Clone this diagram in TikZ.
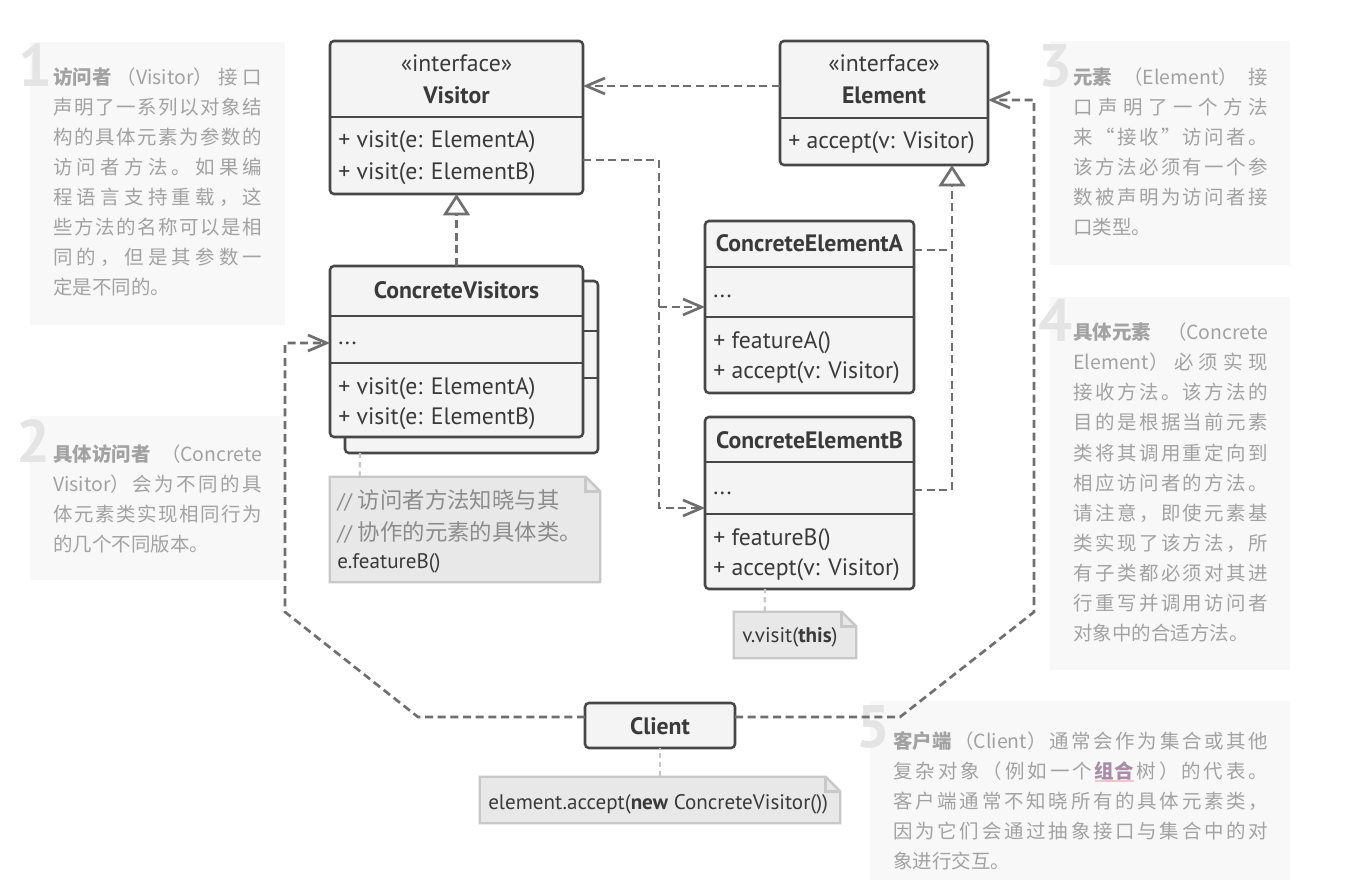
\documentclass[tikz,border=0pt]{standalone}
\usepackage{fontspec}
\setmainfont{PT Sans}
\newfontfamily\cjk{Noto Sans CJK SC}
\usetikzlibrary{arrows.meta,calc}
\definecolor{boxline}{HTML}{474747}
\definecolor{boxfill}{HTML}{F4F4F4}
\definecolor{txt}{HTML}{3A3A3A}
\definecolor{conn}{HTML}{6F6F6F}
\definecolor{notefill}{HTML}{E8E8E8}
\definecolor{noteline}{HTML}{C8C8C8}
\definecolor{cmt}{HTML}{8C8C8C}
\definecolor{panel}{HTML}{F8F8F8}
\definecolor{numc}{HTML}{E4E4E4}
\definecolor{anntxt}{HTML}{A2A2A2}
\definecolor{linkc}{HTML}{A88CA8}
\definecolor{ulc}{HTML}{F2C6C6}
\makeatletter
\newlength\jw
\newcommand\jl[1]{\hbox to \jw{\@tfor\@c:=#1\do{\@c\hfil}\unskip}}
\makeatother
\newcommand\lnk[1]{\setbox0\hbox{\bfseries #1}\rlap{\color{ulc}\rule[-3pt]{\wd0}{1.2pt}}{\color{linkc}\box0}}
\newcommand\rectnode[6]{\node[#6, minimum width={(#4-#2)*0.75pt}, minimum height={(#5-#3)*0.75pt}] (#1) at ({(#2+#4)/2},{(#3+#5)/2}) {};}
\newcommand\annot[4]{\foreach \t [count=\i] in {#4}{\node[ann] (#1-\i) at (#2,{#3+(\i-1)*30}) {\t};}}
\tikzset{
  cls/.style={draw=boxline, fill=boxfill, line width=1.9pt, rounded corners=3pt, inner sep=0pt, outer sep=0pt},
  sep/.style={draw=boxline, line width=1.9pt},
  ctext/.style={text=txt, font=\fontsize{17.8}{21}\selectfont, inner sep=0pt, anchor=base west},
  chead/.style={text=txt, font=\fontsize{17.8}{21}\selectfont\bfseries, inner sep=0pt, anchor=base},
  cster/.style={text=txt, font=\fontsize{17.8}{21}\selectfont, inner sep=0pt, anchor=base},
  dep/.style={draw=conn, line width=2pt, dash pattern=on 6pt off 3.5pt},
  barb/.style={-{Straight Barb[length=14pt,width=12pt,line width=2pt]}},
  real/.style={-{Triangle[length=16pt,width=20pt,fill=white,line width=2pt]}},
  notebox/.style={draw=noteline, fill=notefill, line width=1.8pt},
  noteconn/.style={draw=noteline, line width=1.8pt, dash pattern=on 4pt off 3pt},
  ntext/.style={text=txt, font=\fontsize{15.8}{19}\selectfont, anchor=base west, inner sep=0pt},
  num/.style={text=numc, font=\fontsize{45}{45}\selectfont\bfseries, anchor=base west, inner sep=0pt},
  ann/.style={text=anntxt, font=\cjk\fontsize{14.6}{22}\selectfont, anchor=base west, inner sep=0pt},
}
\begin{document}
\begin{tikzpicture}[x=0.75pt, y=-0.75pt]
\fill[white] (0,0) rectangle (1349,880);
\useasboundingbox (0,0) rectangle (1349,880);
% ---------- annotation panels ----------
\fill[panel] (30,42) rectangle (285,325);
\fill[panel] (30,416) rectangle (285,580);
\fill[panel] (1050,41) rectangle (1290,265);
\fill[panel] (1050,297) rectangle (1290,670);
\fill[panel] (870,701) rectangle (1290,880);
\node[num] (num1) at (18,87) {1};
\node[num] (num2) at (16,462) {2};
\node[num] (num3) at (1038,87) {3};
\node[num] (num4) at (1038,342) {4};
\node[num] (num5) at (856,747) {5};
\setlength\jw{156.75pt}
\annot{p1}{53}{85}{{\jl{{{\bfseries 访问者}}{（Visitor）}接口}},{\jl{声明了一系列以对象结}},{\jl{构的具体元素为参数的}},{\jl{访问者方法。如果编}},{\jl{程语言支持重载，这}},{\jl{些方法的名称可以是相}},{\jl{同的，但是其参数一}},{定是不同的。}}
\annot{p2}{53}{461}{{\jl{{{\bfseries 具体访问者}}{（Concrete}}},{\jl{{Visitor）}会为不同的具}},{\jl{体元素类实现相同行为}},{的几个不同版本。}}
\setlength\jw{146.25pt}
\annot{p3}{1073}{85}{{\jl{{{\bfseries 元素}}{（Element）}接}},{\jl{口声明了一个方法}},{\jl{来“接收”访问者。}},{\jl{该方法必须有一个参}},{\jl{数被声明为访问者接}},{口类型。}}
\annot{p4}{1073}{340}{{\jl{{{\bfseries 具体元素}}{（Concrete}}},{\jl{{Element）}必须实现}},{\jl{接收方法。该方法的}},{\jl{目的是根据当前元素}},{\jl{类将其调用重定向到}},{\jl{相应访问者的方法。}},{\jl{请注意，即使元素基}},{\jl{类实现了该方法，所}},{\jl{有子类都必须对其进}},{\jl{行重写并调用访问者}},{对象中的合适方法。}}
\setlength\jw{281.25pt}
\annot{p5}{893}{748}{{\jl{{{\bfseries 客户端}}{（Client）}通常会作为集合或其他}},{\jl{复杂对象（例如一个{{\lnk{组合}}}树）的代表。}},{\jl{客户端通常不知晓所有的具体元素类，}},{\jl{因为它们会通过抽象接口与集合中的对}},{象进行交互。}}
% ---------- class boxes ----------
\rectnode{vis}{330}{41}{583}{194}{cls}
\rectnode{elem}{780}{41}{988}{165}{cls}
\rectnode{cvback}{345}{281}{598}{453}{cls}
\draw[sep] (cvback.west |- 0,331) -- (cvback.east |- 0,331);
\draw[sep] (cvback.west |- 0,378) -- (cvback.east |- 0,378);
\rectnode{cv}{330}{266}{583}{437}{cls}
\rectnode{ceA}{705}{221}{914}{393}{cls}
\rectnode{ceB}{705}{417}{914}{589}{cls}
\rectnode{client}{585}{703}{735}{748}{cls}
% ---------- connectors ----------
\draw[dep, barb] (elem.west |- 0,86) -- (vis.east |- 0,86);
\draw[dep, real] (cv.north) -- (vis.south);
\draw[dep] (ceA.east |- 0,250) -- (952,250);
\draw[dep, real] (ceB.east |- 0,490) -| ($(elem.south east)+(-36,0)$);
\draw[dep, barb] (vis.east |- 0,160) -| (659,330) |- (ceB.west |- 0,508);
\draw[dep, barb] (659,307) -- (ceA.west |- 0,307);
\draw[dep, barb] (client.west |- 0,717) -- (418,717) -- (285,612) -- (285,343) -- (cv.west |- 0,343);
\draw[dep, barb] (client.east |- 0,717) -- (900,717) -- (1034,612) -- (1034,100) -- (elem.east |- 0,100);
% dividers
\draw[sep] (vis.west |- 0,117) -- (vis.east |- 0,117);
\draw[sep] (elem.west |- 0,118) -- (elem.east |- 0,118);
\draw[sep] (cv.west |- 0,316) -- (cv.east |- 0,316);
\draw[sep] (cv.west |- 0,363) -- (cv.east |- 0,363);
\draw[sep] (ceA.west |- 0,267) -- (ceA.east |- 0,267);
\draw[sep] (ceA.west |- 0,317) -- (ceA.east |- 0,317);
\draw[sep] (ceB.west |- 0,462) -- (ceB.east |- 0,462);
\draw[sep] (ceB.west |- 0,514) -- (ceB.east |- 0,514);
% class texts
\node[cster] (visS) at (456.5,72) {«interface»};
\node[chead] (visN) at (456.5,104) {Visitor};
\node[ctext] (visM1) at (338,148) {+ visit(e: ElementA)};
\node[ctext] (visM2) at (338,180) {+ visit(e: ElementB)};
\node[cster] (elemS) at (884,72) {«interface»};
\node[chead] (elemN) at (884,104) {Element};
\node[ctext] (elemM1) at (788,149) {+ accept(v: Visitor)};
\node[chead] (cvN) at (456.5,299) {ConcreteVisitors};
\node[ctext] (cvF) at (338,345) {...};
\node[ctext] (cvM1) at (338,394) {+ visit(e: ElementA)};
\node[ctext] (cvM2) at (338,424) {+ visit(e: ElementB)};
\node[chead] (ceAN) at (809.5,252) {ConcreteElementA};
\node[ctext] (ceAF) at (713,298) {...};
\node[ctext] (ceAM1) at (713,349) {+ featureA()};
\node[ctext] (ceAM2) at (713,379) {+ accept(v: Visitor)};
\node[chead] (ceBN) at (809.5,448) {ConcreteElementB};
\node[ctext] (ceBF) at (713,494) {...};
\node[ctext] (ceBM1) at (713,545) {+ featureB()};
\node[ctext] (ceBM2) at (713,575) {+ accept(v: Visitor)};
\node[chead] (clientN) at (660,734) {Client};
% ---------- notes ----------
\rectnode{n1}{330}{477}{600}{582}{}
\rectnode{n2}{734}{612}{856}{658}{}
\rectnode{n3}{480}{777}{840}{823}{}
\foreach \n in {n1,n2,n3}{
  \draw[notebox] (\n.south west) -- (\n.north west) -- ([xshift=-11pt]\n.north east) -- ([yshift=-11pt]\n.north east) -- (\n.south east) -- cycle;
  \draw[draw=noteline, line width=1.8pt] ([xshift=-11pt]\n.north east) |- ([yshift=-11pt]\n.north east);
}
\draw[noteconn] ($(n1.north west)+(30,0)$) -- ($(cvback.south west)+(15,0)$);
\draw[noteconn] ($(n2.north west)+(31,0)$) -- ($(ceB.south west)+(60,0)$);
\draw[noteconn] (n3.north -| client.south) -- (client.south);
\node[ntext, text=cmt] (n1a) at (337,508) {// {\cjk\fontsize{16.8}{19}\selectfont 访问者方法知晓与其}};
\node[ntext, text=cmt] (n1b) at (337,540) {// {\cjk\fontsize{16.8}{19}\selectfont 协作的元素的具体类。}};
\node[ntext] (n1c) at (337,568) {e.featureB()};
\node[ntext] (n2a) at (742,642) {v.visit(\textbf{this})};
\node[ntext] (n3a) at (488,809) {element.accept(\textbf{new} ConcreteVisitor())};
\end{tikzpicture}
\end{document}
